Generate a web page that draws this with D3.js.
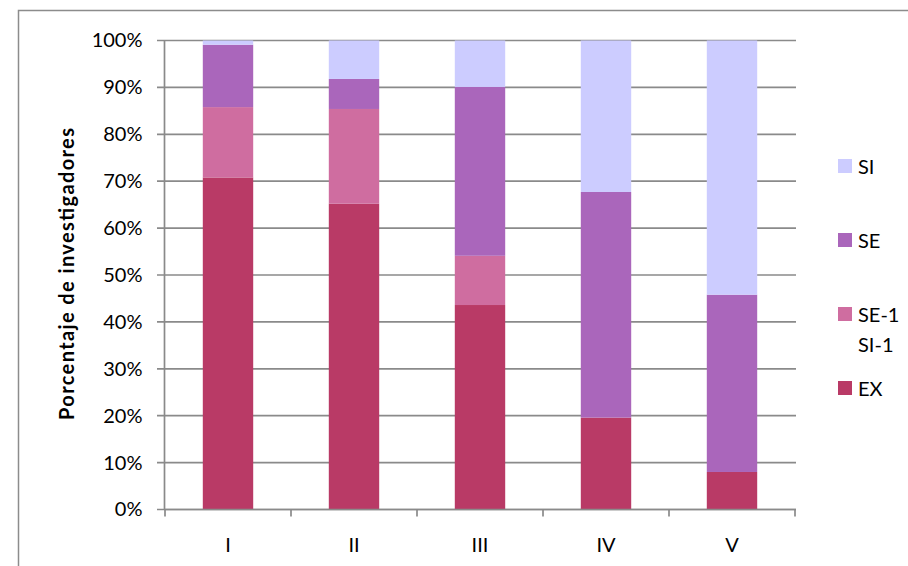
<!DOCTYPE html>
<html><head><meta charset="utf-8">
<script src="https://cdn.jsdelivr.net/npm/d3@7"></script>
<style>body{margin:0;background:#fff;} text{font-family:Lato,"Open Sans",sans-serif;fill:#000;}</style>
</head><body>
<svg id="c" width="908" height="566"></svg>
<script>
const categories = ["I","II","III","IV","V"];
const seriesNames = ["EX","SE-1 SI-1","SE","SI"];
const EX   = [70.8, 65.2, 43.6, 19.6, 8.0];
const SE1  = [15.0, 20.2, 10.5, 0, 0];
const SE   = [13.3, 6.4, 36.0, 48.1, 37.8];
const SI   = [0.9, 8.2, 9.9, 32.3, 54.2];
const yTicks = [0,10,20,30,40,50,60,70,80,90,100];
const colors = ["#b93a66","#cf6da0","#aa66bb","#ccccff"];

const svg = d3.select("#c");
svg.append("path").attr("d","M18.5,566 V10.5 H908").attr("fill","none").attr("stroke","#8c8c8c").attr("stroke-width",1.5);

const x = d3.scaleBand().domain(categories).range([165,795]).paddingInner(0.6).paddingOuter(0.3);
const y = d3.scaleLinear().domain([0,100]).range([509.5,40.5]);

svg.append("g").selectAll("line").data(yTicks).join("line")
  .attr("x1",157).attr("x2",796).attr("y1",d=>y(d)).attr("y2",d=>y(d))
  .attr("stroke","#8a8a8a").attr("stroke-width",1.7);

const rows = categories.map((c,i)=>({cat:c, "EX":EX[i], "SE-1 SI-1":SE1[i], "SE":SE[i], "SI":SI[i]}));
const stack = d3.stack().keys(seriesNames)(rows);
svg.append("g").selectAll("g").data(stack).join("g").attr("fill",(d,i)=>colors[i])
  .selectAll("rect").data(d=>d).join("rect")
  .attr("x",d=>x(d.data.cat)).attr("width",x.bandwidth())
  .attr("y",d=>y(d[1])).attr("height",d=>y(d[0])-y(d[1]));

const ya = svg.append("g").attr("transform","translate(164.5,0)")
  .call(d3.axisLeft(y).tickValues(yTicks).tickFormat(d=>d+"%").tickSize(0).tickPadding(22));
ya.select(".domain").remove();
ya.append("line").attr("x1",0).attr("x2",0).attr("y1",y(100)).attr("y2",y(0)).attr("stroke","#8a8a8a").attr("stroke-width",1.7);
ya.selectAll("text").style("font-size","20px").style("font-family","Lato").style("fill","#000");

const xa = svg.append("g").attr("transform",`translate(0,${y(0)})`);
const step = x.step();
const edges = d3.range(categories.length+1).map(i=>165 + i*step);
xa.append("line").attr("x1",164).attr("x2",796).attr("y1",0).attr("y2",0).attr("stroke","#8a8a8a").attr("stroke-width",1.7);
xa.selectAll("line.t").data(edges).join("line").attr("class","t")
  .attr("x1",d=>d).attr("x2",d=>d).attr("y1",0).attr("y2",7).attr("stroke","#8a8a8a").attr("stroke-width",1.7);
xa.selectAll("text").data(categories).join("text")
  .attr("x",d=>x(d)+x.bandwidth()/2).attr("y",42).attr("text-anchor","middle")
  .style("font-size","20px").text(d=>d);

svg.append("text").attr("transform","translate(74,274) rotate(-90)").attr("text-anchor","middle")
  .attr("textLength",292).attr("lengthAdjust","spacing")
  .style("font-size","20px").style("font-weight","bold").text("Porcentaje de investigadores");

const legend = [
  {name:"SI", c:3, y:166},
  {name:"SE", c:2, y:240},
  {name:"SE-1", c:1, y:314, extra:"SI-1"},
  {name:"EX", c:0, y:388}
];
const lg = svg.append("g");
legend.forEach(l=>{
  lg.append("rect").attr("x",838).attr("y",l.y-7).attr("width",14).attr("height",14).attr("fill",colors[l.c]);
  lg.append("text").attr("x",858).attr("y",l.y+8).style("font-size","20px").text(l.name);
  if(l.extra) lg.append("text").attr("x",858).attr("y",l.y+38).style("font-size","20px").text(l.extra);
});
</script>
</body></html>
